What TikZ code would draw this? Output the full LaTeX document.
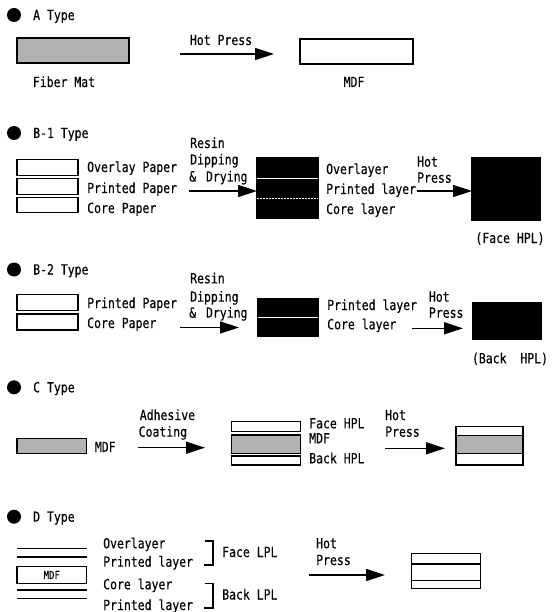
\documentclass[tikz,border=0pt]{standalone}
\usepackage{fontspec}
\newfontfamily\tfont[FakeStretch=0.82,FakeBold=0.3]{DejaVu Sans Mono}
\usetikzlibrary{arrows.meta}
\tikzset{
  lbl/.style={font={\tfont\fontsize{14}{16}\selectfont}, inner sep=0pt, text height=10pt, text depth=0pt, anchor=west},
  clbl/.style={lbl, anchor=center},
  smalllbl/.style={font={\tfont\fontsize{11}{12}\selectfont}, inner sep=0pt, text height=8pt, text depth=0pt},
  box/.style={draw=black, line width=1.4pt, inner sep=0pt, fill=white},
  grbox/.style={box, fill=black!30},
  blk/.style={draw=black, fill=black, line width=1pt, inner sep=0pt},
  wline/.style={draw=white, line width=0.9pt},
  arr/.style={line width=1.5pt, -{Triangle[length=19pt,width=12pt]}},
  bul/.style={circle, fill=black, inner sep=0pt, minimum size=14pt},
  lyr/.style={line width=1.6pt},
  brk/.style={line width=1.4pt},
}
\begin{document}
\begin{tikzpicture}[x=1pt,y=-1pt]
\useasboundingbox (0,0) rectangle (554,612);

% ---------- A Type
\node[bul] (bA) at (14,15) {};
\node[lbl] (tA) at (33,15) {A Type};
\node[grbox, minimum width=112pt, minimum height=25pt] (fiber) at (73,50.5) {};
\node[clbl] (fiberl) at (64,82) {Fiber Mat};
\coordinate (aAs) at (180,54);
\coordinate (aAe) at (274,54);
\draw[arr] (aAs) -- (aAe);
\node[clbl] (hpA) at (221,40) {Hot Press};
\node[box, minimum width=113pt, minimum height=25pt] (mdfA) at (356.5,51.5) {};
\node[clbl] (mdfAl) at (354,82) {MDF};

% ---------- B-1 Type
\node[bul] (bB1) at (14,133) {};
\node[lbl] (tB1) at (33,133) {B-1 Type};
\node[box, minimum width=61pt, minimum height=15.5pt] (ov1) at (47.5,167.5) {};
\node[box, minimum width=61pt, minimum height=15.5pt] (pr1) at (47.5,186.5) {};
\node[box, minimum width=61pt, minimum height=15.5pt] (co1) at (47.5,205) {};
\node[lbl] (ov1l) at (87,167) {Overlay Paper};
\node[lbl] (pr1l) at (87,188) {Printed Paper};
\node[lbl] (co1l) at (87,208) {Core Paper};
\node[lbl] (r1a) at (190,143) {Resin};
\node[lbl] (r1b) at (190,159.5) {Dipping};
\node[lbl] (r1c) at (189,176.5) {\&\hspace{3pt} Drying};
\coordinate (a1s) at (189,191);
\coordinate (a1e) at (257,191);
\draw[arr] (a1s) -- (a1e);
\node[blk, minimum width=62pt, minimum height=61pt] (blk1) at (287.5,188) {};
\draw[wline] (257,178.3) -- (318,178.3);
\draw[wline, line width=0.6pt, dash pattern=on 1.5pt off 1.5pt] (257,198.8) -- (318,198.8);
\node[lbl] (ol1) at (326,169) {Overlayer};
\node[lbl] (pl1) at (326,189) {Printed layer};
\node[lbl] (cl1) at (326,209) {Core layer};
\node[lbl] (h1a) at (417,161.7) {Hot};
\node[lbl] (h1b) at (417,177.7) {Press};
\coordinate (b1s) at (417,191);
\coordinate (b1e) at (472,191);
\draw[arr] (b1s) -- (b1e);
\node[blk, minimum width=69pt, minimum height=62pt] (face) at (506,189) {};
\node[clbl] (facel) at (510,238) {(Face HPL)};

% ---------- B-2 Type
\node[bul] (bB2) at (14,269.5) {};
\node[lbl] (tB2) at (33,269.5) {B-2 Type};
\node[box, minimum width=61pt, minimum height=16pt] (pr2) at (47.5,302.3) {};
\node[box, minimum width=61pt, minimum height=16pt] (co2) at (47.5,322) {};
\node[lbl] (pr2l) at (87,303) {Printed Paper};
\node[lbl] (co2l) at (87,323) {Core Paper};
\node[lbl] (r2a) at (190,278.3) {Resin};
\node[lbl] (r2b) at (190,296.7) {Dipping};
\node[lbl] (r2c) at (189,312.7) {\&\hspace{3pt} Drying};
\coordinate (a2s) at (180,327.5);
\coordinate (a2e) at (239,327.5);
\draw[arr] (a2s) -- (a2e);
\node[blk, minimum width=61pt, minimum height=38.4pt] (blk2) at (287.5,317.5) {};
\draw[wline] (257.5,317.7) -- (317.5,317.7);
\node[lbl] (pl2) at (327,305) {Printed layer};
\node[lbl] (cl2) at (327,324.3) {Core layer};
\node[lbl] (h2a) at (428.7,296.7) {Hot};
\node[lbl] (h2b) at (428.7,312.7) {Press};
\coordinate (b2s) at (412,328.3);
\coordinate (b2e) at (463,328.3);
\draw[arr] (b2s) -- (b2e);
\node[blk, minimum width=69pt, minimum height=37pt] (back) at (506.5,320.8) {};
\node[clbl] (backl) at (510,358.3) {(Back\ \ HPL)};

% ---------- C Type
\node[bul] (bC) at (14,387.3) {};
\node[lbl] (tC) at (33,387.3) {C Type};
\node[grbox, minimum width=69.6pt, minimum height=15pt] (mdfC) at (51.8,445.8) {};
\node[lbl] (mdfCl) at (94.7,447) {MDF};
\node[lbl] (adh) at (139.6,415) {Adhesive};
\node[lbl] (coat) at (138.5,431.7) {Coating};
\coordinate (c1s) at (138,447.7);
\coordinate (c1e) at (205,447.7);
\draw[arr] (c1s) -- (c1e);
\node[box, minimum width=69pt, minimum height=10pt] (cface) at (266,426.7) {};
\node[grbox, minimum width=69pt, minimum height=18.3pt] (cmdf) at (266,444.2) {};
\node[box, minimum width=69pt, minimum height=9pt] (cback) at (266,460.5) {};
\node[lbl] (cfacel) at (309,423.3) {Face HPL};
\node[lbl] (cmdfl) at (309,438.3) {MDF};
\node[lbl] (cbackl) at (309,458.3) {Back HPL};
\node[lbl] (h3a) at (385,415) {Hot};
\node[lbl] (h3b) at (385,431.7) {Press};
\coordinate (c2s) at (385,448.3);
\coordinate (c2e) at (445,448.3);
\draw[arr] (c2s) -- (c2e);
\node[box, minimum width=67pt, minimum height=38.3pt] (cfin) at (489.5,445.85) {};
\node[grbox, minimum width=67pt, minimum height=17.6pt] (cfinm) at (489.5,444.5) {};

% ---------- D Type
\node[bul] (bD) at (14,516.7) {};
\node[lbl] (tD) at (33,516.7) {D Type};
\draw[lyr] (17,548.3) -- (86.6,548.3);
\draw[lyr] (17,556.7) -- (86.6,556.7);
\node[box, minimum width=69.6pt, minimum height=16.6pt, smalllbl] (mdfD) at (51.8,575) {MDF};
\draw[lyr] (17,590) -- (86.6,590);
\draw[lyr] (17,598.3) -- (86.6,598.3);
\node[lbl] (dol) at (103,543.3) {Overlayer};
\node[lbl] (dpl1) at (103,561.7) {Printed layer};
\node[lbl] (dcl) at (103,584.3) {Core layer};
\node[lbl] (dpl2) at (103,605) {Printed layer};
\draw[brk] (205,541) -- (213,541) -- (213,565) -- (204,565);
\node[lbl] (flpl) at (222,552) {Face LPL};
\draw[brk] (205,583.5) -- (213,583.5) -- (213,608) -- (204,608);
\node[lbl] (blpl) at (222,594.5) {Back LPL};
\node[lbl] (h4a) at (316,543.3) {Hot};
\node[lbl] (h4b) at (316,560) {Press};
\coordinate (d1s) at (309,575);
\coordinate (d1e) at (385,575);
\draw[arr] (d1s) -- (d1e);
\node[box, minimum width=69pt, minimum height=35pt] (dfin) at (446.2,570.8) {};
\draw[lyr] (dfin.west |- 0,564) -- (dfin.east |- 0,564);
\draw[box] (dfin.west |- 0,580.7) -- (dfin.east |- 0,580.7);
\end{tikzpicture}
\end{document}
